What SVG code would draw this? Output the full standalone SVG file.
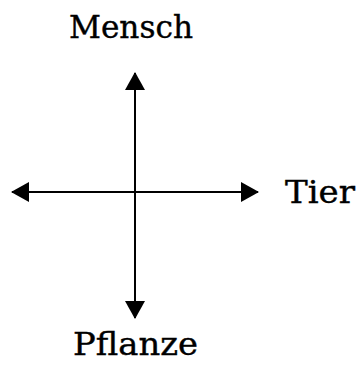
<svg xmlns="http://www.w3.org/2000/svg" width="360" height="365" viewBox="0 0 360 365">
<style>
.lbl{font-family:"DejaVu Serif","Liberation Serif",serif;font-size:31px;fill:#000;stroke:#000;stroke-width:0.4}
.ax{stroke:#000;stroke-width:2;fill:none}
</style>
<defs>
<marker id="ah" viewBox="0 0 18 20" refX="17" refY="10" markerWidth="18" markerHeight="20" markerUnits="userSpaceOnUse" orient="auto-start-reverse">
<path d="M0,0 L18,10 L0,20 Z" fill="#000"/>
</marker>
</defs>
<rect width="360" height="365" fill="#fff"/>
<g id="connectors">
<line class="ax" x1="135" y1="73" x2="135" y2="318" marker-start="url(#ah)" marker-end="url(#ah)"/>
<line class="ax" x1="12" y1="192" x2="258" y2="192" marker-start="url(#ah)" marker-end="url(#ah)"/>
</g>
<g id="mensch"><text class="lbl" x="69" y="38" textLength="124" lengthAdjust="spacingAndGlyphs">Mensch</text></g>
<g id="tier"><text class="lbl" x="285" y="203" textLength="70" lengthAdjust="spacingAndGlyphs">Tier</text></g>
<g id="pflanze"><text class="lbl" x="73" y="355" textLength="125" lengthAdjust="spacingAndGlyphs">Pflanze</text></g>
</svg>
